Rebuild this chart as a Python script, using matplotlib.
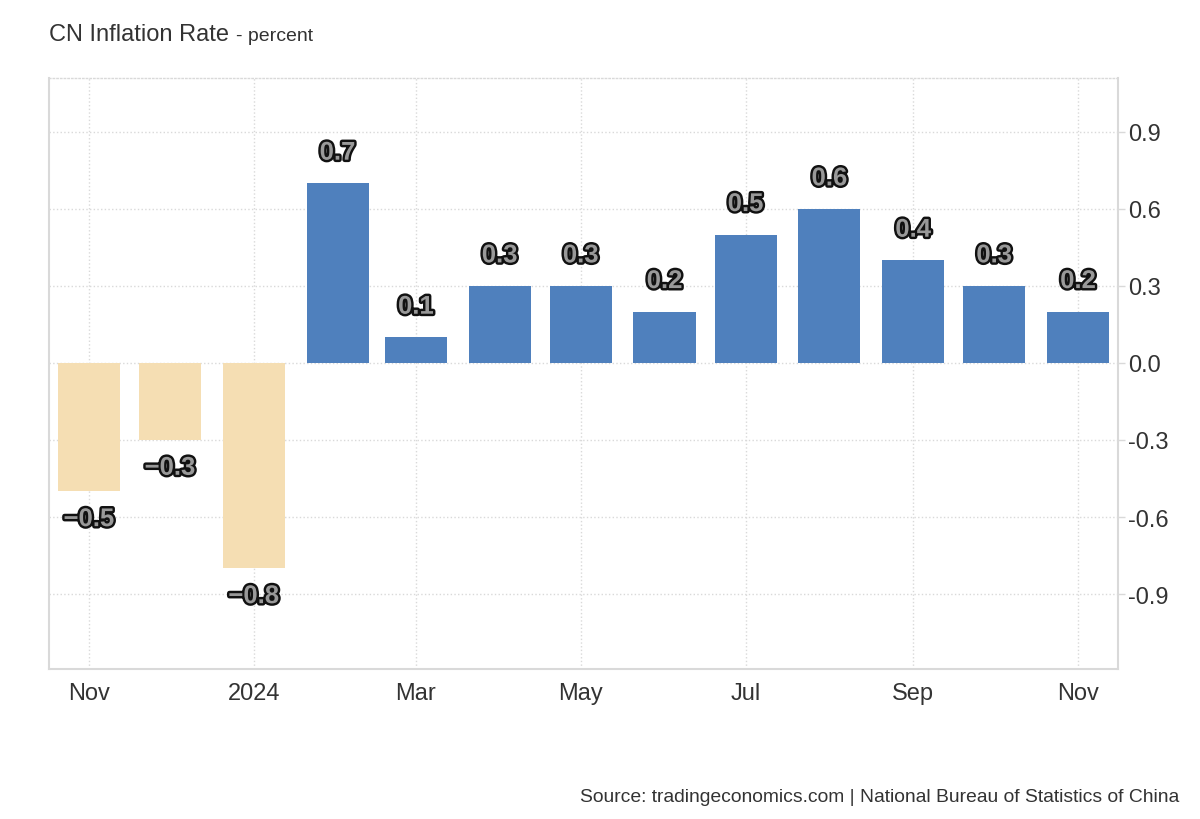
import numpy as np
import matplotlib
matplotlib.use("Agg")
import matplotlib.pyplot as plt
import matplotlib.patheffects as pe
from datetime import datetime, timedelta

plt.rcParams['font.family'] = ['Liberation Sans', 'DejaVu Sans']
plt.rcParams['axes.unicode_minus'] = False

months = ['2023-11', '2023-12', '2024-01', '2024-02', '2024-03', '2024-04', '2024-05',
          '2024-06', '2024-07', '2024-08', '2024-09', '2024-10', '2024-11']
values = [-0.5, -0.3, -0.8, 0.7, 0.1, 0.3, 0.3, 0.2, 0.5, 0.6, 0.4, 0.3, 0.2]
tick_months = ['2023-11', '2024-01', '2024-03', '2024-05', '2024-07', '2024-09', '2024-11']
tick_labels = ['Nov', '2024', 'Mar', 'May', 'Jul', 'Sep', 'Nov']
y_ticks = [-0.9, -0.6, -0.3, 0.0, 0.3, 0.6, 0.9]

dates = [datetime.strptime(m, '%Y-%m') for m in months]
tick_dates = [datetime.strptime(m, '%Y-%m') for m in tick_months]

blue = '#4f80bd'
beige = '#f5deb3'
grid_c = '#d9d9d9'
text_c = '#333333'

fig = plt.figure(figsize=(12, 8.2), dpi=100)
ax = fig.add_axes([0.0408, 0.1829, 0.8909, 0.7208])

colors = [blue if v >= 0 else beige for v in values]
ax.bar(dates, values, width=23, color=colors, zorder=2)

# value labels: grey fill, dark outline
stroke = [pe.withStroke(linewidth=3.5, foreground='#111111')]
for d, v in zip(dates, values):
    txt = ('%.1f' % v).replace('-', '\u2212')
    off = 22 if v >= 0 else -20
    ax.annotate(txt, (d, v), xytext=(0, off), textcoords='offset points',
                ha='center', va='center', fontsize=18.5, fontweight='bold',
                color='#999999', path_effects=stroke, zorder=4)

ax.set_xlim(datetime(2023, 11, 1) - timedelta(days=14.8),
            datetime(2024, 11, 1) + timedelta(days=14.8))
ax.set_ylim(-1.192, 1.11)

ax.set_xticks(tick_dates)
ax.set_xticklabels(tick_labels)
ax.set_yticks(y_ticks)
ax.yaxis.set_major_formatter(matplotlib.ticker.FormatStrFormatter('%.1f'))
ax.yaxis.tick_right()

ax.tick_params(axis='x', length=0, pad=9, labelsize=17, labelcolor=text_c)
ax.tick_params(axis='y', length=5, width=1, color=grid_c, pad=2,
               labelsize=17, labelcolor=text_c)

ax.grid(True, linestyle=':', color=grid_c, linewidth=1, zorder=0)
ax.set_axisbelow(True)

for s in ['left', 'bottom', 'right']:
    ax.spines[s].set_color(grid_c)
    ax.spines[s].set_linewidth(1.5)
ax.spines['top'].set_color(grid_c)
ax.spines['top'].set_linestyle(':')
ax.spines['top'].set_linewidth(1)

fig.text(0.0408, 0.957, 'CN Inflation Rate', fontsize=17, color=text_c,
         ha='left', va='center')
fig.text(0.197, 0.956, '- percent', fontsize=14, color=text_c,
         ha='left', va='center')
fig.text(0.983, 0.028, 'Source: tradingeconomics.com | National Bureau of Statistics of China',
         fontsize=13.9, color=text_c, ha='right', va='center')

fig.savefig('out.png', dpi=100)
